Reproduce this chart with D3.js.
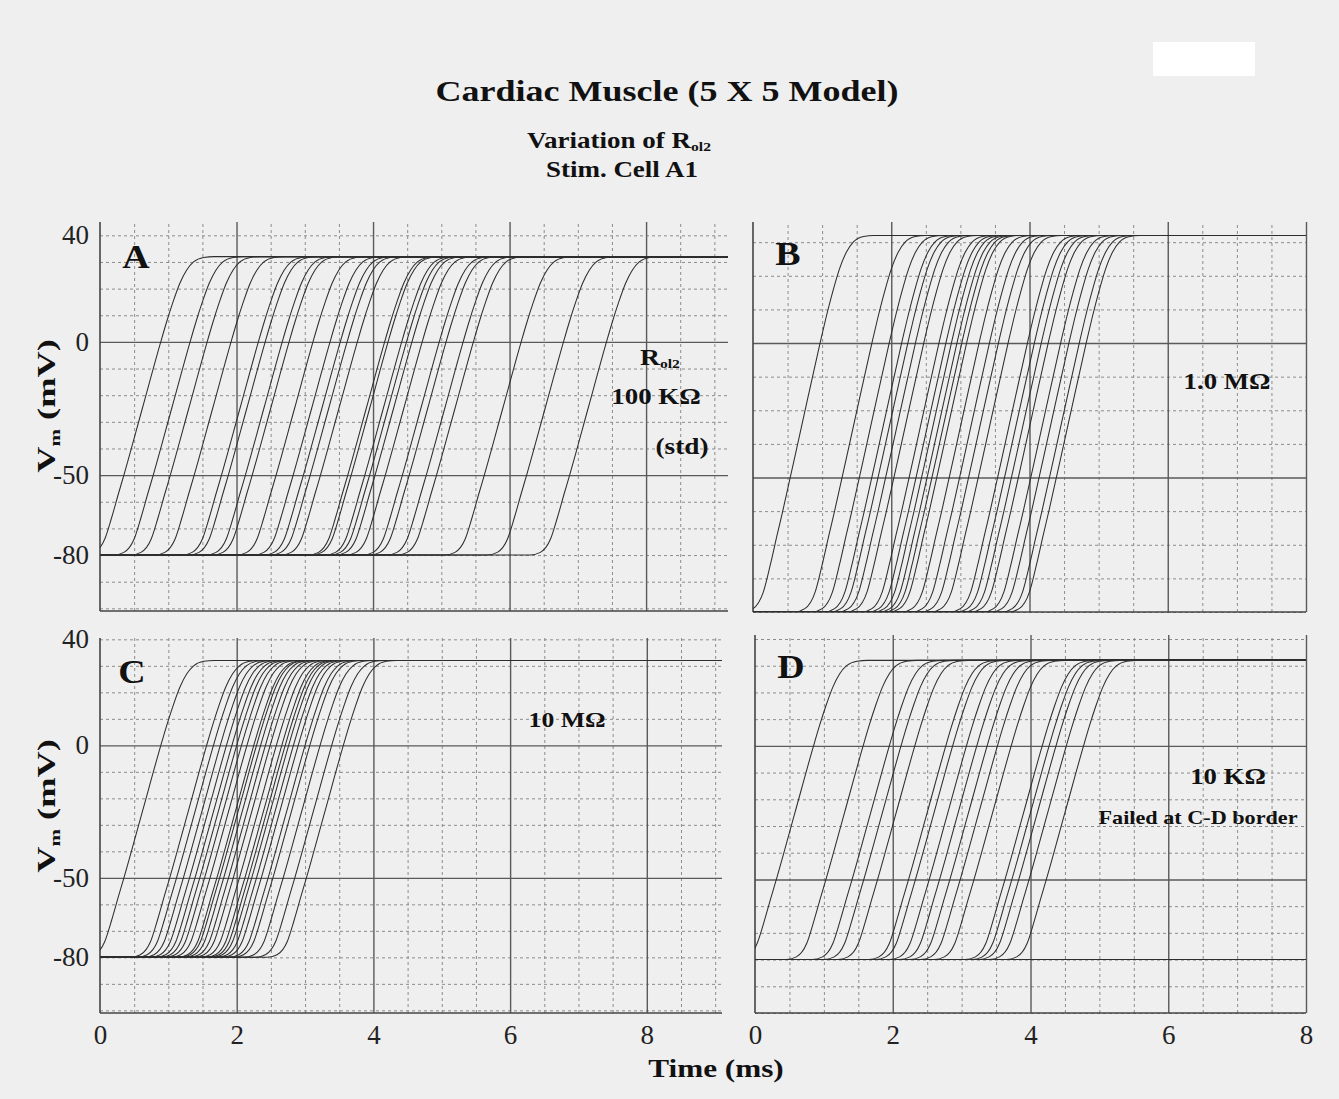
<!DOCTYPE html>
<html>
<head>
<meta charset="utf-8">
<script src="https://cdnjs.cloudflare.com/ajax/libs/d3/7.8.5/d3.min.js"></script>
<style>
  body {
    margin: 0;
    background: #efefef;
  }
  svg {
    display: block;
    font-family: "Liberation Serif", "Times New Roman", serif;
  }
  .grid-minor line {
    stroke: #8c8c8c;
    stroke-width: 1;
    stroke-dasharray: 3 3;
  }
  .grid-major line {
    stroke: #5a5a5a;
    stroke-width: 1.4;
  }
  .grid-minor path, .grid-major path,
  .ticks path, .ticks line {
    display: none;
  }
  .ticks text {
    font-family: "Liberation Serif", "Times New Roman", serif;
    font-size: 27px;
    fill: #222;
  }
  .frame {
    stroke: #444;
    stroke-width: 1.6;
  }
  .trace {
    fill: none;
    stroke: #2e2e2e;
    stroke-width: 1.05;
  }
  .label {
    font-weight: bold;
    fill: #111;
  }
</style>
</head>
<body>
<script>
  // one upstroke: time (ms) relative to the -25 mV crossing, and Vm (mV)
  var templateT = [-0.85, -0.7, -0.55, -0.45, -0.35, -0.27, 0, 0.27, 0.35, 0.45, 0.55, 0.65, 0.75, 0.9, 1.05];
  var templateV = [-80, -79, -74, -66, -57, -50, -25, 0, 7, 15, 22, 27, 30, 31.7, 32];

  // time (ms) at which each cell crosses -25 mV
  var delaysA = [0.62, 1.05, 1.3, 1.65, 2.05, 2.15, 2.4, 2.5, 2.85, 3.1, 3.25, 3.35, 3.5,
                 3.9, 3.95, 4.15, 4.22, 4.3, 4.45, 4.7, 4.8, 5.05, 5.2, 5.9, 6.52, 7.15];
  var delaysB = [0.7, 1.45, 1.7, 1.88, 1.97, 2.08, 2.2, 2.42, 2.52, 2.6, 2.68, 2.75, 2.82,
                 3.0, 3.15, 3.28, 3.42, 3.7, 3.8, 3.9, 4.0, 4.18, 4.3, 4.45, 4.55];
  var delaysC = [0.62, 1.29, 1.39, 1.49, 1.58, 1.66, 1.73, 1.8, 1.88, 1.98, 2.02, 2.08, 2.15,
                 2.22, 2.31, 2.39, 2.44, 2.49, 2.56, 2.63, 2.73, 2.8, 2.95, 3.12, 3.29];
  var delaysD = [0.58, 1.3, 1.68, 1.85, 2.05, 2.5, 2.6, 2.8, 2.95, 3.1, 3.25, 3.45,
                 3.9, 4.0, 4.1, 4.25, 4.5];
  var failedD = 8;   // cells past the C-D border stay at rest

  var yTicks = [40, 0, -50, -80];
  var xTicks = [0, 2, 4, 6, 8];

  var W = 1339, H = 1099;

  var svg = d3.select("body").append("svg")
      .attr("width", W)
      .attr("height", H);

  // scanner artefact in the top right corner
  svg.append("rect")
      .attr("x", 1153).attr("y", 42)
      .attr("width", 102).attr("height", 34)
      .attr("fill", "#fff");

  var panels = [
    {name: "A", delays: delaysA, failed: 0, left: 100, right: 728, top: 222, bottom: 611,
     xMax: 9.2, yDom: [-101, 45], majorY: [0, -50], yLabels: true, xLabels: false,
     letter: [136, 268], vLabelY: 406},
    {name: "B", delays: delaysB, failed: 0, left: 753, right: 1306, top: 222, bottom: 612,
     xMax: 8, yDom: [-80, 36], majorY: [0, -40], yLabels: false, xLabels: false,
     letter: [788, 265]},
    {name: "C", delays: delaysC, failed: 0, left: 100, right: 722, top: 638, bottom: 1013,
     xMax: 9.1, yDom: [-101, 40.5], majorY: [0, -50], yLabels: true, xLabels: true,
     letter: [132, 683], vLabelY: 806},
    {name: "D", delays: delaysD, failed: failedD, left: 755, right: 1306, top: 635, bottom: 1013,
     xMax: 8, yDom: [-100, 41.5], majorY: [0, -50], yLabels: false, xLabels: true,
     letter: [791, 678]}
  ];

  var rest = templateV[0],
      peak = templateV[templateV.length - 1];

  // bold scanned lettering is wider than the installed serif, so stretch it a little
  function label(txt, x, y, size, sx) {
    return svg.append("text")
        .attr("class", "label")
        .attr("font-size", size)
        .attr("text-anchor", "middle")
        .attr("transform", `translate(${x},${y}) scale(${sx || 1.2},1)`)
        .text(txt);
  }

  panels.forEach(function(p) {
    var width = p.right - p.left,
        height = p.bottom - p.top;

    var x = d3.scaleLinear().domain([0, p.xMax]).range([0, width]);
    var y = d3.scaleLinear().domain(p.yDom).range([height, 0]);

    var g = svg.append("g")
        .attr("transform", `translate(${p.left},${p.top})`);

    var minorY = d3.range(Math.ceil(p.yDom[0] / 10) * 10, p.yDom[1] + 0.01, 10)
        .filter(v => p.majorY.indexOf(v) < 0);
    var minorX = d3.range(0.5, p.xMax + 0.01, 0.5).filter(v => v % 2 !== 0);
    var majorX = d3.range(2, p.xMax + 0.01, 2);

    g.append("g").attr("class", "grid-minor")
        .call(d3.axisLeft(y).tickValues(minorY).tickSize(-width).tickFormat(""));
    g.append("g").attr("class", "grid-minor")
        .attr("transform", `translate(0,${height})`)
        .call(d3.axisBottom(x).tickValues(minorX).tickSize(-height).tickFormat(""));
    g.append("g").attr("class", "grid-major")
        .call(d3.axisLeft(y).tickValues(p.majorY).tickSize(-width).tickFormat(""));
    g.append("g").attr("class", "grid-major")
        .attr("transform", `translate(0,${height})`)
        .call(d3.axisBottom(x).tickValues(majorX).tickSize(-height).tickFormat(""));

    // left axis and bottom line
    g.append("line").attr("class", "frame")
        .attr("x1", 0).attr("x2", 0).attr("y1", 0).attr("y2", height);
    g.append("line").attr("class", "frame")
        .attr("x1", 0).attr("x2", width).attr("y1", height).attr("y2", height);

    var clipId = "clip" + p.name;
    g.append("clipPath").attr("id", clipId)
      .append("rect").attr("width", width).attr("height", height);

    var line = d3.line()
        .x(d => x(d[0]))
        .y(d => y(d[1]))
        .curve(d3.curveMonotoneX);

    var traces = p.delays.map(function(t0) {
      var pts = templateT.map((t, i) => [t + t0, templateV[i]]);
      if (pts[0][0] > 0) pts.unshift([0, rest]);
      pts.push([p.xMax, peak]);
      return pts;
    });
    for (var i = 0; i < p.failed; i++) traces.push([[0, rest], [p.xMax, rest]]);

    g.append("g")
        .attr("clip-path", `url(#${clipId})`)
      .selectAll(".trace")
      .data(traces)
      .enter().append("path")
        .attr("class", "trace")
        .attr("d", line);

    if (p.yLabels) {
      g.append("g").attr("class", "ticks")
          .call(d3.axisLeft(y).tickValues(yTicks).tickSize(0).tickPadding(11)
            .tickFormat(d => String(d)));

      var vl = svg.append("text")
          .attr("class", "label")
          .attr("font-size", 26)
          .attr("text-anchor", "middle")
          .attr("transform", `translate(55,${p.vLabelY}) rotate(-90) scale(1.4,1)`);
      vl.append("tspan").text("V");
      vl.append("tspan").attr("font-size", 15).attr("dy", 5).text("m");
      vl.append("tspan").attr("dy", -5).text(" (mV)");
    }
    if (p.xLabels) {
      g.append("g").attr("class", "ticks")
          .attr("transform", `translate(0,${height})`)
          .call(d3.axisBottom(x).tickValues(xTicks).tickSize(0).tickPadding(12)
            .tickFormat(d => String(d)));
    }

    label(p.name, p.letter[0], p.letter[1], 33, 1.15);
  });

  label("Cardiac Muscle (5 X 5 Model)", 667, 101, 30);

  var sub = label("Variation of R", 619, 148, 22.5);
  sub.append("tspan").attr("font-size", 13).attr("dy", 3).text("ol2");
  label("Stim. Cell A1", 622, 177, 22.5);

  var r = label("R", 660, 365, 23);
  r.append("tspan").attr("font-size", 13).attr("dy", 3).text("ol2");
  label("100 KΩ", 656, 404, 22.4);
  label("(std)", 682, 454, 22.7);

  label("1.0 MΩ", 1227, 389, 22.3);
  label("10 MΩ", 567, 727, 21.4);
  label("10 KΩ", 1228, 784, 22.3);
  label("Failed at C-D border", 1198, 824, 18.5);

  label("Time (ms)", 716, 1077, 26);
</script>
</body>
</html>
